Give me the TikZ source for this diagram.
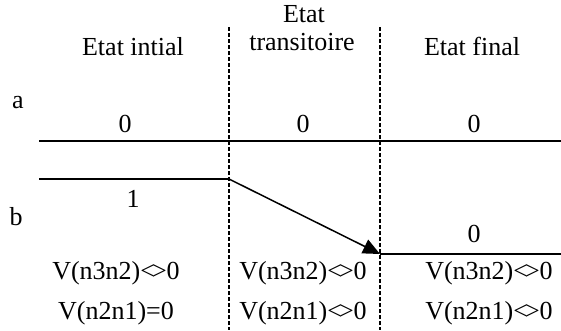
\documentclass[tikz,border=0pt]{standalone}
\usepackage{fontspec}
\setmainfont{Liberation Serif}
\usetikzlibrary{arrows.meta}
\tikzset{
  lbl/.style={font=\fontsize{26}{29}\selectfont, inner sep=0pt, anchor=base},
  sep/.style={line width=1.2pt, dash pattern=on 4pt off 2pt},
  sig/.style={line width=1.5pt},
}
\newcommand{\neqv}{<\kern-3pt>}
\begin{document}
\begin{tikzpicture}[x=1pt,y=-1pt]
    \useasboundingbox (0,0) rectangle (561,330);
    % column separators
    \foreach \i/\x in {1/229,2/380} {
        \coordinate (s\i t) at (\x,27);
        \coordinate (s\i b) at (\x,330);
        \draw[sep] (s\i t) -- (s\i b);
    }
    % headers
    \node[lbl] (h1) at (133,55) {Etat intial};
    \node[lbl] (h2a) at (304,22) {Etat};
    \node[lbl] (h2b) at (302,50) {transitoire};
    \node[lbl] (h3) at (472,55) {Etat final};
    % signal a
    \node[lbl] (la) at (18,108) {a};
    \coordinate (a0) at (39,141);
    \coordinate (a1) at (561,141);
    \draw[sig] (a0) -- (a1);
    \foreach \i/\x in {1/125,2/303,3/474}
        \node[lbl] (za\i) at (\x,132) {0};
    % signal b
    \node[lbl] (lb) at (16,225) {b};
    \coordinate (b0) at (39,179);
    \coordinate (b1) at (229,179);
    \coordinate (b2) at (380,254);
    \coordinate (b3) at (561,254);
    \draw[sig] (b0) -- (b1);
    \draw[sig, -{Triangle[length=17pt,width=15pt]}] (b1) -- (b2);
    \draw[sig] (b2) -- (b3);
    \node[lbl] (ob) at (133,207) {1};
    \node[lbl] (zb) at (474,242) {0};
    % voltages
    \foreach \i/\x/\t in {1/116/{=0},2/303/{\neqv0},3/489/{\neqv0}} {
        \node[lbl] (v\i a) at (\x,279) {V(n3n2)\neqv0};
        \node[lbl] (v\i b) at (\x,319) {V(n2n1)\t};
    }
\end{tikzpicture}
\end{document}
